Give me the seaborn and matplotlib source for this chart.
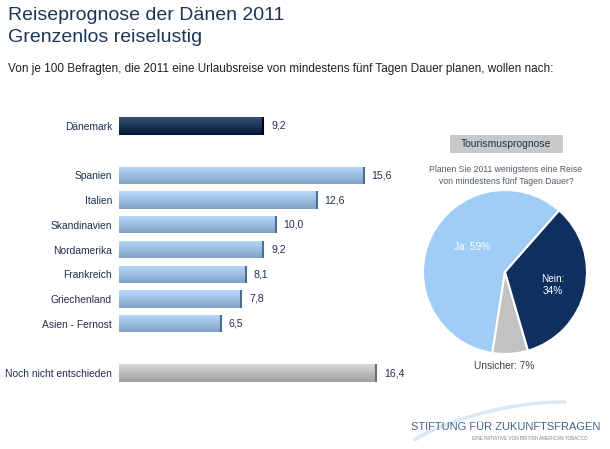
import matplotlib
matplotlib.use("Agg")
import matplotlib.pyplot as plt
import seaborn as sns
import pandas as pd
import numpy as np
from matplotlib.patches import Rectangle

sns.set_theme(style="white")
plt.rcParams['font.family'] = ['Liberation Sans', 'DejaVu Sans']

# ---- data ----
categories = ["Dänemark", "Spanien", "Italien", "Skandinavien", "Nordamerika",
              "Frankreich", "Griechenland", "Asien - Fernost", "Noch nicht entschieden"]
values = [9.2, 15.6, 12.6, 10.0, 9.2, 8.1, 7.8, 6.5, 16.4]
groups = ["home", "abroad", "abroad", "abroad", "abroad", "abroad", "abroad", "abroad", "undecided"]
value_labels = ["9,2", "15,6", "12,6", "10,0", "9,2", "8,1", "7,8", "6,5", "16,4"]

pie_labels = ["Ja: 59%", "Unsicher: 7%", "Nein:\n34%"]
pie_values = [59, 7, 34]

order = ["Dänemark", "_gap1", "Spanien", "Italien", "Skandinavien", "Nordamerika",
         "Frankreich", "Griechenland", "Asien - Fernost", "_gap2", "Noch nicht entschieden"]

palette = {"home": "#0e2f5c", "abroad": "#8ebbea", "undecided": "#b9b9b9"}

df = pd.DataFrame({"cat": categories, "val": values, "grp": groups})

W, H = 610, 449
fig = plt.figure(figsize=(W / 100, H / 100), dpi=100)
fig.patch.set_facecolor("white")

def fx(px):
    return px / W

def fy(py):
    return 1 - py / H

# ---- bar chart ----
ax = fig.add_axes([fx(119), fy(385.5), fx(314), (385.5 - 113.5) / H])
sns.barplot(data=df, x="val", y="cat", hue="grp", order=order, palette=palette,
            dodge=False, legend=False, width=0.7, orient="h", ax=ax,
            edgecolor="none", linewidth=0)
ax.set_xlim(0, 20)
ax.set_xlabel("")
ax.set_ylabel("")
ax.set_xticks([])
for s in ax.spines.values():
    s.set_visible(False)
ax.set_yticks(range(len(order)))
ax.set_yticklabels([c if not c.startswith("_") else "" for c in order],
                   fontsize=7.4, color="#1f3050")
ax.tick_params(axis="y", length=0, pad=5)

# gradient shading
for patch in ax.patches:
    w = patch.get_width()
    if not np.isfinite(w) or w == 0:
        continue
    y0 = patch.get_y()
    h = patch.get_height()
    base = np.array(patch.get_facecolor()[:3])
    top = np.clip(base + 0.12, 0, 1)
    bot = np.clip(base - 0.10, 0, 1)
    t = np.linspace(0, 1, 32)[:, None]
    grad = (top[None, :] * (1 - t) + bot[None, :] * t)[:, None, :]
    im = ax.imshow(grad, extent=[0, w, y0 + h, y0], aspect="auto",
                   zorder=patch.get_zorder() + 0.1, interpolation="bilinear")
    im.set_clip_path(patch)
    ax.plot([w, w], [y0, y0 + h], color=tuple(np.clip(base - 0.3, 0, 1)), lw=1.5,
            zorder=patch.get_zorder() + 0.2, solid_capstyle="butt")

ax.set_ylim(len(order) - 0.5, -0.5)

for cat, v, lab in zip(categories, values, value_labels):
    yi = order.index(cat)
    ax.annotate(lab, xy=(v, yi), xytext=(5.5, 0), textcoords="offset points",
                va="center", ha="left", fontsize=7.6, color="#1f3050")

# ---- titles ----
fig.text(fx(8), fy(15), "Reiseprognose der Dänen 2011", fontsize=14, color="#1c3557",
         va="center", ha="left")
fig.text(fx(8), fy(38), "Grenzenlos reiselustig", fontsize=14, color="#1c3557",
         va="center", ha="left")
fig.text(fx(8), fy(69), "Von je 100 Befragten, die 2011 eine Urlaubsreise von mindestens fünf Tagen Dauer planen, wollen nach:",
         fontsize=8.5, color="#202020", va="center", ha="left")

# ---- pie ----
cx, cy, r = 505, 272, 82
pax = fig.add_axes([fx(cx - r), fy(cy + r), 2 * r / W, 2 * r / H])
wedges, _ = pax.pie(pie_values, colors=["#a0cdf6", "#c2c2c2", "#0f2f5e"],
                    startangle=48.7, counterclock=True,
                    wedgeprops=dict(edgecolor="white", linewidth=1.5))
pax.set_xlim(-1, 1)
pax.set_ylim(-1, 1)
pax.set_aspect("equal")
pax.axis("off")
pax.text(-0.40, 0.30, pie_labels[0], color="white", fontsize=7.2, ha="center", va="center")
pax.text(0.58, -0.16, pie_labels[2], color="white", fontsize=7.2, ha="center", va="center",
         linespacing=1.3)
fig.text(fx(504), fy(366), pie_labels[1], color="#404040", fontsize=7.3, ha="center", va="center")

# box "Tourismusprognose"
fig.add_artist(Rectangle((fx(450), fy(153)), fx(113), (153 - 135) / H,
                         transform=fig.transFigure, facecolor="#c9c9c9", edgecolor="none"))
fig.text(fx(506.5), fy(144), "Tourismusprognose", fontsize=7.5, color="#1f3050",
         ha="center", va="center")
fig.text(fx(506), fy(170), "Planen Sie 2011 wenigstens eine Reise", fontsize=6.2,
         color="#505a66", ha="center", va="center")
fig.text(fx(506), fy(181), "von mindestens fünf Tagen Dauer?", fontsize=6.2,
         color="#505a66", ha="center", va="center")

# ---- logo ----
ts = np.linspace(0, 1, 60)
xs = 415 + ts * 150
ys = 440 - 38 * np.sin(ts * np.pi * 0.5) ** 0.8
fig.add_artist(plt.Line2D(fx(xs), fy(ys), transform=fig.transFigure, color="#d3e6f6", lw=2.5,
                          alpha=0.9))
fig.text(fx(506), fy(427), "STIFTUNG FÜR ZUKUNFTSFRAGEN", fontsize=8, color="#46648e",
         ha="center", va="center")
fig.text(fx(530), fy(438), "EINE INITIATIVE VON BRITISH AMERICAN TOBACCO", fontsize=3.3,
         color="#808080", ha="center", va="center")

fig.savefig("out.png", dpi=100, facecolor="white")
